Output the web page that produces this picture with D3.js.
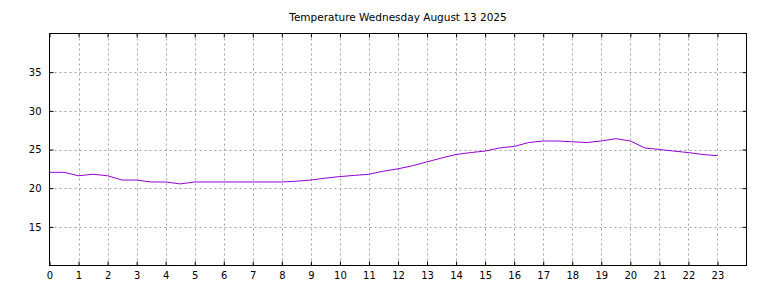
<!DOCTYPE html>
<html><head><meta charset="utf-8">
<script src="https://cdn.jsdelivr.net/npm/d3@7"></script>
<style>body{margin:0;background:#fff}svg{display:block}</style>
</head><body>
<svg id="c" width="768" height="288"></svg>
<script>
const title = "Temperature Wednesday August 13 2025";
const hours = [0,0.5,1,1.5,2,2.5,3,3.5,4,4.5,5,5.5,6,6.5,7,7.5,8,8.5,9,9.5,10,10.5,11,11.5,12,12.5,13,13.5,14,14.5,15,15.5,16,16.5,17,17.5,18,18.5,19,19.5,20,20.5,21,21.5,22,22.5,23];
const temps = [22.05,22.05,21.6,21.8,21.6,21.05,21.05,20.8,20.8,20.55,20.8,20.8,20.8,20.8,20.8,20.8,20.8,20.9,21.05,21.3,21.5,21.65,21.8,22.2,22.5,22.9,23.4,23.9,24.35,24.6,24.8,25.2,25.4,25.9,26.1,26.1,26.0,25.9,26.1,26.4,26.1,25.2,25.0,24.8,24.6,24.35,24.2];
const xTicks = d3.range(0,24);
const yTicks = [15,20,25,30,35];

const svg = d3.select("#c");
const L=49.5, R=746.5, T=33.5, B=265.5;
const x = d3.scaleLinear().domain([0,24]).range([L,R]);
const y = d3.scaleLinear().domain([10,40]).range([B,T]);
const font = "DejaVu Sans, sans-serif";

svg.append("text").attr("x",398).attr("y",21).attr("text-anchor","middle")
  .attr("font-family",font).attr("font-size",10.5).attr("fill","#000").text(title);

const grid = svg.append("g").attr("stroke","#a0a0a0").attr("stroke-dasharray","2,3").attr("stroke-width",1);
xTicks.slice(1).forEach(t=>grid.append("line").attr("x1",Math.round(x(t))+0.5).attr("x2",Math.round(x(t))+0.5).attr("y1",T).attr("y2",B));
yTicks.forEach(t=>grid.append("line").attr("y1",Math.round(y(t))+0.5).attr("y2",Math.round(y(t))+0.5).attr("x1",L).attr("x2",R));

// axes with inward ticks
const ax = d3.axisBottom(x).tickValues(xTicks).tickSize(-4).tickPadding(6).tickFormat(d3.format("d"));
svg.append("g").attr("transform",`translate(0,${B})`).call(ax);
const axT = d3.axisTop(x).tickValues(xTicks).tickSize(-4).tickFormat("");
svg.append("g").attr("transform",`translate(0,${T})`).call(axT);
const ay = d3.axisLeft(y).tickValues(yTicks).tickSize(-4).tickPadding(8).tickFormat(d3.format("d"));
svg.append("g").attr("transform",`translate(${L},0)`).call(ay);
const ayR = d3.axisRight(y).tickValues(yTicks).tickSize(-4).tickFormat("");
svg.append("g").attr("transform",`translate(${R},0)`).call(ayR);
svg.selectAll(".domain").remove();
svg.selectAll(".tick text").attr("font-family",font).attr("font-size",10).attr("fill","#000");
svg.selectAll(".tick line").attr("stroke","#000");

svg.append("rect").attr("x",L).attr("y",T).attr("width",R-L).attr("height",B-T)
  .attr("fill","none").attr("stroke","#000").attr("stroke-width",1);

const line = d3.line().x((d,i)=>x(hours[i])).y(d=>y(d));
svg.append("path").datum(temps).attr("d",line).attr("fill","none").attr("stroke","#9400d3").attr("stroke-width",1);
</script>
</body></html>
